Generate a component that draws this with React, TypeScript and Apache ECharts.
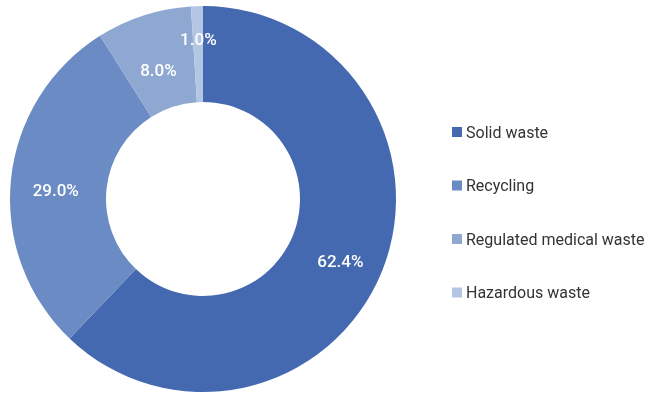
import React, { useEffect, useRef } from "react";
import * as echarts from "echarts";

const categories = ["Solid waste", "Recycling", "Regulated medical waste", "Hazardous waste"];
const values = [62.4, 29.0, 8.0, 1.0];
const colors = ["#4569b0", "#6a8bc3", "#8ea8d2", "#b3c6e4"];

export default function App() {
  const ref = useRef<HTMLDivElement>(null);
  useEffect(() => {
    const chart = echarts.init(ref.current!, null, { renderer: "svg" });
    const offsets = [
      [0, 7],
      [0, 6],
      [1, 12],
      [0, -12],
    ];
    chart.setOption({
      animation: false,
      color: colors,
      legend: {
        orient: "vertical",
        left: 452,
        top: 124,
        padding: 0,
        itemWidth: 10,
        itemHeight: 10,
        itemGap: 37.5,
        icon: "rect",
        data: categories,
        textStyle: { fontFamily: "Roboto", fontSize: 16, color: "#333333", padding: [0, 0, 0, -1] },
      },
      series: [
        {
          type: "pie",
          center: [203, 199],
          radius: [97, 193],
          startAngle: 90,
          clockwise: true,
          avoidLabelOverlap: false,
          itemStyle: { borderColor: "#ffffff", borderWidth: 0 },
          label: {
            show: true,
            position: "inside",
            color: "#ffffff",
            fontFamily: "Roboto",
            fontSize: 17,
            fontWeight: 500,
            formatter: (p: any) => p.value.toFixed(1) + "%",
          },
          labelLine: { show: false },
          labelLayout: (params: any) => ({
            dx: offsets[params.dataIndex][0],
            dy: offsets[params.dataIndex][1],
          }),
          data: categories.map((name, i) => ({ name, value: values[i] })),
        },
      ],
    });
    return () => chart.dispose();
  }, []);
  return <div ref={ref} style={{ position: "fixed", left: 0, top: 0, width: 653, height: 396 }} />;
}
